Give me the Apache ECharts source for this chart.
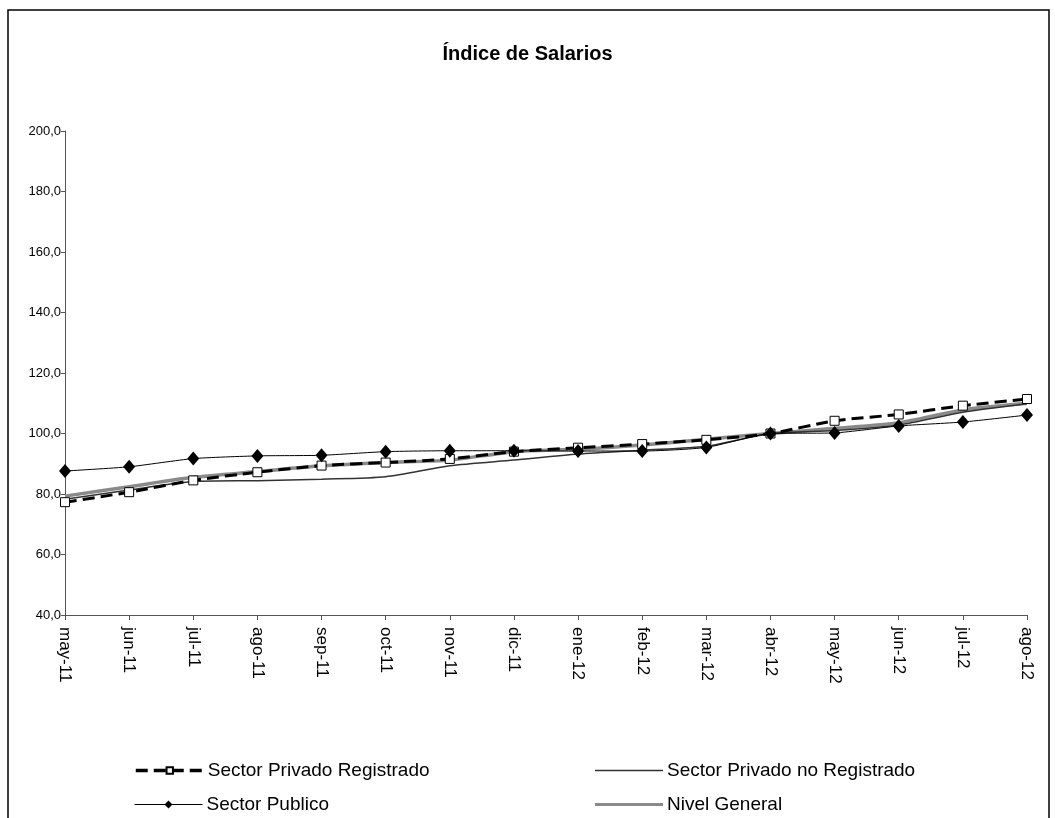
<!DOCTYPE html>
<html>
<head>
<meta charset="utf-8">
<title>Índice de Salarios</title>
<script src="https://cdn.jsdelivr.net/npm/echarts@6/dist/echarts.min.js"></script>
<style>
  html, body { margin: 0; padding: 0; background: #fff; }
  #chart { width: 1055px; height: 818px; }
</style>
</head>
<body>
<div id="chart"></div>
<script>
// meses (eje x)
var meses = ['may-11', 'jun-11', 'jul-11', 'ago-11', 'sep-11', 'oct-11', 'nov-11', 'dic-11',
  'ene-12', 'feb-12', 'mar-12', 'abr-12', 'may-12', 'jun-12', 'jul-12', 'ago-12'];

// series (base abr-12 = 100)
var privadoRegistrado = [77.3, 80.6, 84.5, 87.2, 89.4, 90.4, 91.6, 94.0, 95.3, 96.5, 97.9, 100.0, 104.2, 106.3, 109.2, 111.4];
var privadoNoRegistrado = [78.3, 81.3, 84.1, 84.4, 84.9, 85.7, 89.3, 91.2, 93.2, 94.5, 95.8, 100.0, 101.0, 102.8, 107.0, 109.8];
var sectorPublico = [87.6, 89.0, 91.7, 92.6, 92.8, 94.0, 94.3, 94.3, 94.2, 94.2, 95.4, 100.0, 100.2, 102.5, 103.8, 106.1];
var nivelGeneral = [79.3, 82.4, 85.5, 87.4, 89.3, 90.4, 91.2, 94.0, 94.8, 96.2, 98.1, 100.0, 101.7, 103.6, 107.8, 110.0];

var nombres = ['Sector Privado Registrado', 'Sector Privado no Registrado', 'Sector Publico', 'Nivel General'];

var myChart = echarts.init(document.getElementById('chart'));

// una leyenda por item para ubicarlas como en el original (2 filas x 2 columnas)
function leyenda(item, left, top, alto, linea) {
  var l = {
    data: [item],
    left: left,
    top: top,
    padding: 0,
    itemWidth: 68,
    itemHeight: alto,
    itemGap: 0,
    textStyle: { fontSize: 19, color: '#000', fontFamily: 'Liberation Sans, Arial', padding: [0, 0, 0, -1] },
    selectedMode: false
  };
  if (linea) { l.lineStyle = linea; }
  return l;
}

var option = {
  animation: false,
  backgroundColor: '#fff',
  title: {
    text: 'Índice de Salarios',
    left: 'center',
    top: 39,
    textStyle: { fontSize: 20, fontWeight: 'bold', color: '#000', fontFamily: 'Liberation Sans, Arial' }
  },
  graphic: [{
    type: 'rect',
    shape: { x: 8, y: 10, width: 1041, height: 840 },
    style: { fill: null, stroke: '#000', lineWidth: 1.5 },
    silent: true
  }],
  legend: [
    leyenda(nombres[0], 134, 761, 8, { width: 3.5 }),
    leyenda({ name: nombres[1], icon: 'rect' }, 595, 761, 1.5),
    leyenda(nombres[2], 134, 795, 10, { width: 1 }),
    leyenda({ name: nombres[3], icon: 'rect' }, 595, 795, 3)
  ],
  grid: { left: 65, right: 28, top: 131, bottom: 203, containLabel: false },
  xAxis: {
    type: 'category',
    data: meses,
    boundaryGap: false,
    axisLine: { lineStyle: { color: '#555', width: 1 } },
    axisTick: { length: 5, lineStyle: { color: '#555' } },
    axisLabel: { rotate: -90, fontSize: 17, color: '#000', margin: 12, fontFamily: 'Liberation Sans, Arial' },
    splitLine: { show: false }
  },
  yAxis: {
    type: 'value',
    min: 40,
    max: 200,
    interval: 20,
    axisLine: { show: true, lineStyle: { color: '#555', width: 1 } },
    axisTick: { show: true, length: 4, lineStyle: { color: '#555' } },
    axisLabel: {
      fontSize: 13, color: '#000', margin: 4,
      fontFamily: 'Liberation Sans Narrow, Liberation Sans, Arial',
      formatter: function (v) { return v.toFixed(1).replace('.', ','); }
    },
    splitLine: { show: false }
  },
  series: [
    {
      name: nombres[3],
      type: 'line',
      data: nivelGeneral,
      smooth: 0.25,
      symbol: 'none',
      lineStyle: { color: '#8a8a8a', width: 3.5 },
      itemStyle: { color: '#8a8a8a' },
      z: 2
    },
    {
      name: nombres[1],
      type: 'line',
      data: privadoNoRegistrado,
      smooth: 0.25,
      symbol: 'none',
      lineStyle: { color: '#333', width: 1.5 },
      itemStyle: { color: '#333' },
      z: 3
    },
    {
      name: nombres[0],
      type: 'line',
      data: privadoRegistrado,
      smooth: 0.25,
      symbol: 'rect',
      symbolSize: 9,
      lineStyle: { color: '#000', width: 3, type: [12, 6] },
      itemStyle: { color: '#fff', borderColor: '#000', borderWidth: 1 },
      z: 4
    },
    {
      name: nombres[2],
      type: 'line',
      data: sectorPublico,
      smooth: 0.2,
      symbol: 'diamond',
      symbolSize: [12, 14],
      lineStyle: { color: '#000', width: 1 },
      itemStyle: { color: '#000' },
      z: 5
    }
  ]
};
myChart.setOption(option, true);
</script>
</body>
</html>
